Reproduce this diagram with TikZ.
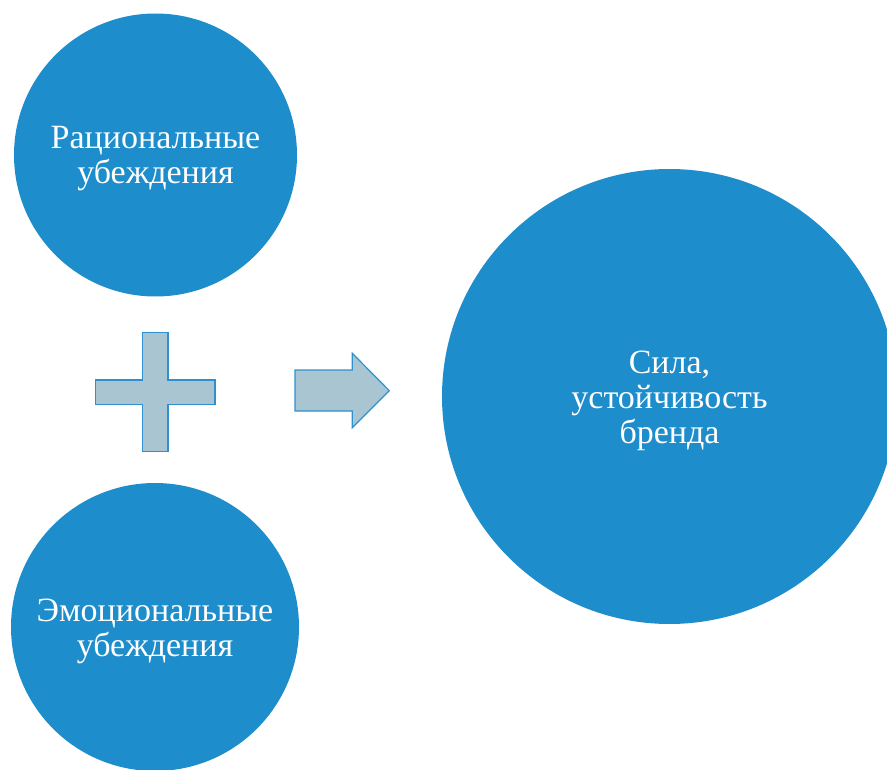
\documentclass[tikz,border=0pt]{standalone}
\usepackage{fontspec}
\setmainfont{Liberation Serif}
\definecolor{circblue}{HTML}{1E8DCB}
\definecolor{shapefill}{HTML}{A9C5D1}
\definecolor{shapeline}{HTML}{2E90CF}
\begin{document}
\begin{tikzpicture}[x=1pt,y=-1pt,
  bubble/.style={circle, fill=circblue, draw=none, inner sep=0pt},
  bubbletext/.style={text=white, align=center, inner sep=0pt, yshift=-4pt,
    font=\fontsize{34}{35}\selectfont},
  symb/.style={fill=shapefill, draw=shapeline, line width=1.2pt, line join=miter}]
\useasboundingbox (0,0) rectangle (887,770);
\begin{scope}
\clip (0,0) rectangle (887,770);
\node[bubble, minimum size=283pt, label={[bubbletext]center:Рациональные\\убеждения}] (rat) at (155.5,155) {};
\node[bubble, minimum size=288pt, label={[bubbletext]center:Эмоциональные\\убеждения}] (emo) at (155,627) {};
\node[bubble, minimum size=455pt, label={[bubbletext]center:Сила,\\устойчивость\\бренда}] (res) at (669.5,396.5) {};
\end{scope}
\draw[symb] (142.3,332.7) -- (168,332.7) -- (168,380) -- (215,380) -- (215,404.7) -- (168,404.7)
  -- (168,451.7) -- (142.3,451.7) -- (142.3,404.7) -- (95.7,404.7) -- (95.7,380) -- (142.3,380) -- cycle;
\draw[symb] (295,370) -- (352.3,370) -- (352.3,353.3) -- (389.3,390.7) -- (352.3,427.7)
  -- (352.3,411) -- (295,411) -- cycle;
\end{tikzpicture}
\end{document}
